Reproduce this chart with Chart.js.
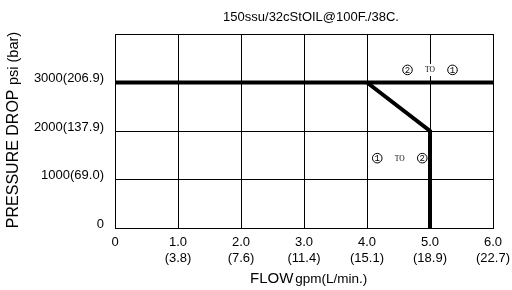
<!DOCTYPE html>
<html>
<head>
<meta charset="utf-8">
<script src="https://cdn.jsdelivr.net/npm/chart.js@4/dist/chart.umd.min.js"></script>
<style>
html,body{margin:0;padding:0;background:#fff;}
#wrap{width:512px;height:290px;}
</style>
</head>
<body>
<div id="wrap"><canvas id="c" width="512" height="290"></canvas></div>
<script>
// flow gpm ticks with L/min in brackets
const flowTicks = [0, 1, 2, 3, 4, 5, 6];
const flowLpm = ["", "(3.8)", "(7.6)", "(11.4)", "(15.1)", "(18.9)", "(22.7)"];
const psiTicks = [0, 1000, 2000, 3000];
const barLabels = ["0", "1000(69.0)", "2000(137.9)", "3000(206.9)"];

// curve "2 to 1"
const line21X = [0, 6];
const line21Y = [3000, 3000];
// curve "1 to 2"
const line12X = [4, 5, 5];
const line12Y = [3000, 2000, 0];

// label anchors (data coords)
const labels = [
  {x: 5.0, y: 3260, a: "2", b: "1", gap: true},
  {x: 4.52, y: 1440, a: "1", b: "2", gap: false}
];

const pts = (xs, ys) => xs.map((x, i) => ({x: x, y: ys[i]}));

const FONT = "'Liberation Sans', Arial, sans-serif";
const MONO = "'Liberation Mono', 'Courier New', monospace";
const SERIF = "'Liberation Serif', 'Times New Roman', serif";

const extras = {
  id: "extras",
  afterDatasetsDraw(chart) {
    const ctx = chart.ctx;
    const xs = chart.scales.x, ys = chart.scales.y;
    ctx.save();
    // title
    ctx.fillStyle = "#000";
    ctx.font = "13px " + FONT;
    ctx.textAlign = "center";
    ctx.textBaseline = "middle";
    ctx.fillText("150ssu/32cStOIL@100F./38C.", 311, 17);

    // y axis title
    ctx.save();
    ctx.translate(14, 130);
    ctx.rotate(-Math.PI / 2);
    ctx.textAlign = "left";
    ctx.textBaseline = "middle";
    ctx.font = "16px " + FONT;
    const t1 = "PRESSURE DROP ";
    const w1 = ctx.measureText(t1).width;
    ctx.font = "14.5px " + FONT;
    const t2 = "psi (bar)";
    const w2 = ctx.measureText(t2).width;
    const start = -(w1 + w2) / 2;
    ctx.font = "16px " + FONT;
    ctx.fillText(t1, start, 0);
    ctx.font = "14.5px " + FONT;
    ctx.fillText(t2, start + w1, 0);
    ctx.restore();

    // x axis title
    ctx.textAlign = "left";
    ctx.textBaseline = "alphabetic";
    ctx.font = "15px " + FONT;
    ctx.fillText("FLOW", 250, 283);
    const wf = ctx.measureText("FLOW").width;
    ctx.font = "13.5px " + FONT;
    ctx.fillText("gpm(L/min.)", 250 + wf + 2, 283);

    // circled labels
    labels.forEach(l => {
      const cx = xs.getPixelForValue(l.x);
      const cy = ys.getPixelForValue(l.y);
      if (l.gap) {
        ctx.fillStyle = "#fff";
        ctx.fillRect(cx - 9, cy - 6, 18, 12);
      }
      ctx.strokeStyle = "#000";
      ctx.fillStyle = "#000";
      ctx.lineWidth = 1;
      [[cx - 22.5, l.a], [cx + 22.5, l.b]].forEach(p => {
        ctx.beginPath();
        ctx.arc(p[0], cy, 4.8, 0, Math.PI * 2);
        ctx.stroke();
        ctx.font = "9px " + MONO;
        ctx.textAlign = "center";
        ctx.textBaseline = "middle";
        ctx.fillText(p[1], p[0], cy + 0.5);
      });
      ctx.font = "7.5px " + SERIF;
      ctx.textAlign = "center";
      ctx.textBaseline = "middle";
      ctx.fillText("TO", cx, cy + 0.5);
    });
    ctx.restore();
  }
};

new Chart(document.getElementById("c"), {
  type: "scatter",
  data: {
    datasets: [
      {label: "2 to 1", data: pts(line21X, line21Y), showLine: true, borderColor: "#000", borderWidth: 4, pointRadius: 0, fill: false},
      {label: "1 to 2", data: pts(line12X, line12Y), showLine: true, borderColor: "#000", borderWidth: 4, pointRadius: 0, fill: false, borderJoinStyle: "miter"}
    ]
  },
  options: {
    responsive: false,
    animation: false,
    layout: {padding: {left: 0, right: 19, top: 34, bottom: 0}},
    plugins: {legend: {display: false}, tooltip: {enabled: false}, title: {display: false}},
    scales: {
      x: {
        type: "linear", min: 0, max: 6,
        afterBuildTicks: s => { s.ticks = flowTicks.map(v => ({value: v})); },
        afterFit: s => { s.height = 62; s.paddingRight = 0; s.paddingLeft = 0; },
        grid: {color: "#000", lineWidth: 1, drawTicks: false},
        border: {color: "#000", width: 1},
        ticks: {
          color: "#000", padding: 6, maxRotation: 0, autoSkip: false,
          font: {family: FONT, size: 13, lineHeight: 1.23},
          callback: (v, i) => v === 0 ? "0" : [v.toFixed(1), flowLpm[i]]
        }
      },
      y: {
        type: "linear", min: 0, max: 4000,
        afterBuildTicks: s => { s.ticks = psiTicks.concat([4000]).map(v => ({value: v})); },
        afterFit: s => { s.width = 115; s.paddingTop = 0; s.paddingBottom = 0; },
        grid: {color: "#000", lineWidth: 1, drawTicks: false},
        border: {color: "#000", width: 1},
        ticks: {
          color: "#000", padding: 11, autoSkip: false,
          font: {family: FONT, size: 13, lineHeight: 0.6},
          callback: (v, i) => i < barLabels.length ? [barLabels[i], ""] : ""
        }
      }
    }
  },
  plugins: [extras]
});
</script>
</body>
</html>
